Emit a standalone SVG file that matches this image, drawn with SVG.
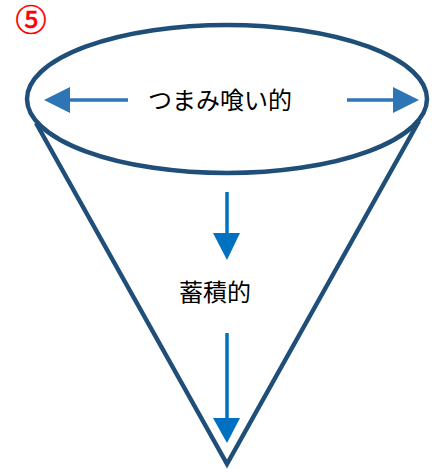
<svg xmlns="http://www.w3.org/2000/svg" width="446" height="473" viewBox="0 0 446 473">
<style>
.shape{fill:none;stroke:#1F4E79;stroke-width:4.5;stroke-linejoin:miter}
.lbl{font-family:"Liberation Serif","Noto Sans CJK JP",serif;font-size:24px;fill:#000}
.ha{stroke:#2E75B6;stroke-width:3.5}
.va{stroke:#0070C0;stroke-width:3.5}
</style>
<rect width="446" height="473" fill="#fff"/>
<g id="cone">
<path class="shape" d="M36,123 L227,464 L419,121"/>
</g>
<g id="top-ellipse">
<ellipse class="shape" cx="227" cy="99" rx="200" ry="74" fill="#fff"/>
</g>
<g id="connectors">
<line class="ha" x1="128" y1="100" x2="68" y2="100"/>
<polygon points="44,100 70,87 70,113" fill="#2E75B6"/>
<line class="ha" x1="347" y1="100" x2="395" y2="100"/>
<polygon points="419,100 393,87 393,113" fill="#2E75B6"/>
<line class="va" x1="227" y1="192" x2="227" y2="236"/>
<polygon points="227,260 213,233 240,233" fill="#0070C0"/>
<line class="va" x1="227" y1="333" x2="227" y2="420"/>
<polygon points="227,443 213,418 240,418" fill="#0070C0"/>
</g>
<g id="label-top">
<text class="lbl" x="220" y="109" text-anchor="middle">つまみ喰い的</text>
</g>
<g id="label-mid">
<text class="lbl" x="215" y="301" text-anchor="middle">蓄積的</text>
</g>
<g id="number">
<text x="31" y="31" text-anchor="middle" font-family="Noto Sans CJK JP,sans-serif" font-size="31" fill="#FF0000" stroke="#FF0000" stroke-width="0.7">⑤</text>
</g>
</svg>
